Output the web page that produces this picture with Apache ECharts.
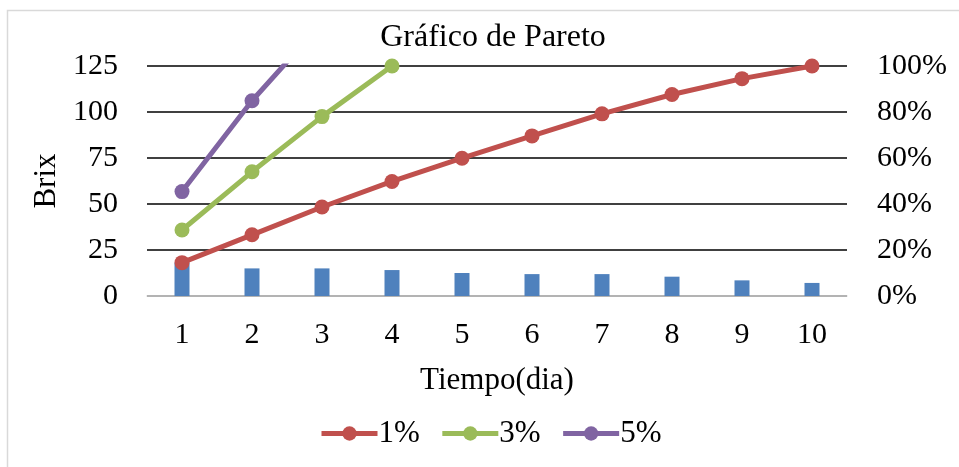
<!DOCTYPE html>
<html>
<head>
<meta charset="utf-8">
<style>
  html, body { margin: 0; padding: 0; background: #fff; }
  #chart { width: 959px; height: 467px; }
</style>
<script src="https://cdn.jsdelivr.net/npm/echarts@6/dist/echarts.min.js"></script>
</head>
<body>
<div id="chart"></div>
<script>
// Days of the trial
var days = ['1', '2', '3', '4', '5', '6', '7', '8', '9', '10'];
// Brix reading per day (bars, left axis)
var brix = [18.1, 15.0, 15.0, 14.1, 12.5, 11.9, 11.9, 10.5, 8.5, 7.1];
// Cumulative percentage per concentration (lines, right axis)
var pct1 = [14.5, 26.6, 38.7, 49.8, 59.9, 69.6, 79.2, 87.6, 94.5, 100];
var pct3 = [28.7, 54.0, 78.0, 100];
var pct5 = [45.4, 84.9, 118.7];
// Axis ticks
var brixTicks = { min: 0, max: 125, interval: 25 };
var pctTicks = { min: 0, max: 100, interval: 20 };

var FONT = '"Liberation Serif", "Times New Roman", serif';
var chart = echarts.init(document.getElementById('chart'));

function lineSeries(name, data, color) {
  return {
    name: name,
    type: 'line',
    yAxisIndex: 1,
    data: data,
    clip: true,
    symbol: 'circle',
    symbolSize: 15,
    itemStyle: { color: color },
    lineStyle: { color: color, width: 5 },
    emphasis: { disabled: true },
    z: 3
  };
}

chart.setOption({
  animation: false,
  backgroundColor: '#fff',
  textStyle: { fontFamily: FONT, color: '#000' },
  graphic: [{
    type: 'rect',
    shape: { x: 7.5, y: 10.5, width: 1000, height: 500 },
    style: { fill: 'none', stroke: '#D9D9D9', lineWidth: 1.5 },
    silent: true
  }],
  title: {
    text: 'Gráfico de Pareto',
    left: 488,
    textAlign: 'center',
    top: 17,
    textStyle: { fontFamily: FONT, fontSize: 32, fontWeight: 'normal', color: '#000' }
  },
  legend: {
    data: ['1%', '3%', '5%'],
    left: 319,
    top: 418,
    padding: 0,
    itemWidth: 56,
    itemHeight: 18,
    itemGap: 20,
    lineStyle: { width: 5 },
    textStyle: { fontFamily: FONT, fontSize: 31, color: '#000', padding: [0, 0, 0, -4] }
  },
  grid: { left: 147, right: 112, top: 66, bottom: 171, containLabel: false },
  xAxis: {
    type: 'category',
    data: days,
    boundaryGap: true,
    axisLine: { lineStyle: { color: '#D9D9D9', width: 1.5 } },
    axisTick: { show: false },
    axisLabel: { fontFamily: FONT, fontSize: 30, color: '#000', margin: 24 },
    name: 'Tiempo(dia)',
    nameLocation: 'middle',
    nameGap: 69,
    nameTextStyle: { fontFamily: FONT, fontSize: 31, color: '#000' }
  },
  yAxis: [{
    type: 'value',
    min: brixTicks.min,
    max: brixTicks.max,
    interval: brixTicks.interval,
    axisLine: { show: false },
    axisTick: { show: false },
    axisLabel: { fontFamily: FONT, fontSize: 30, color: '#000', margin: 29 },
    splitLine: { lineStyle: { color: '#000', width: 1.5 } },
    name: 'Brix',
    nameLocation: 'middle',
    nameGap: 85,
    nameRotate: 90,
    nameTextStyle: { fontFamily: FONT, fontSize: 31, color: '#000' }
  }, {
    type: 'value',
    min: pctTicks.min,
    max: pctTicks.max,
    interval: pctTicks.interval,
    axisLine: { show: false },
    axisTick: { show: false },
    splitLine: { show: false },
    axisLabel: { fontFamily: FONT, fontSize: 30, color: '#000', margin: 30, formatter: '{value}%' }
  }],
  series: [{
    name: 'Brix',
    type: 'bar',
    data: brix,
    barWidth: 15,
    itemStyle: { color: '#4F81BD' },
    emphasis: { disabled: true },
    z: 2
  },
    lineSeries('1%', pct1, '#C0504D'),
    lineSeries('3%', pct3, '#9BBB59'),
    lineSeries('5%', pct5, '#8064A2')
  ]
});
</script>
</body>
</html>
